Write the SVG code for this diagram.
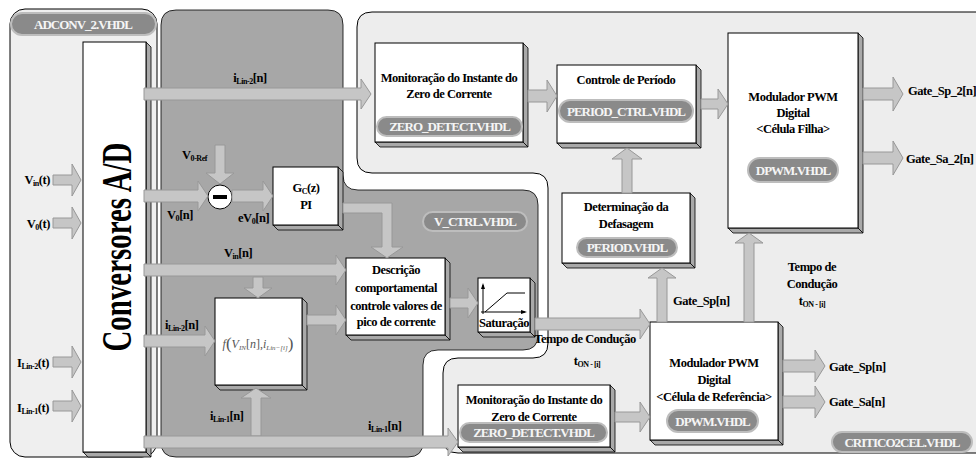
<svg xmlns="http://www.w3.org/2000/svg" width="976" height="462" viewBox="0 0 976 462">
<style>
.blk{fill:#fff;stroke:#000;stroke-width:1}
.shd{fill:#a9a9a9;stroke:#000;stroke-width:0.8}
.arr{fill:#c6c6c6;stroke:#989898;stroke-width:1}
.t{font-family:"Liberation Serif","Times New Roman",serif;font-weight:bold;font-size:12.5px;letter-spacing:-0.45px;fill:#000}
.c{text-anchor:middle}
.e{text-anchor:end}
.pill{fill:#8a8a8a;stroke:#bdbdbd;stroke-width:2}
.pt{font-family:"Liberation Serif","Times New Roman",serif;font-weight:bold;font-size:13px;letter-spacing:-1px;fill:#f5f5f5;text-anchor:middle}
.sub{font-size:8px}
</style>
<rect width="976" height="462" fill="#fff"/>
<!-- panels -->
<g id="panel-adconv">
<rect x="10" y="9" width="147" height="448" rx="15" fill="#efefef" stroke="#000" stroke-width="1"/>
<rect class="pill" x="11" y="13" width="145" height="22" rx="11"/>
<text class="pt" x="83" y="29">ADCONV_2.VHDL</text>
</g>
<g id="panel-vctrl">
<path d="M161,25 Q161,10 176,10 L328,10 Q343,10 343,25 L343,175 Q343,190 358,190 L523,190 Q538,190 538,205 L538,335 Q538,350 523,350 L438,350 Q423,350 423,365 L423,442 Q423,457 408,457 L176,457 Q161,457 161,442 Z" fill="#a7a7a7" stroke="#000" stroke-width="0.8"/>
<rect class="pill" x="423" y="212" width="104" height="19" rx="9.5"/>
<text class="pt" x="475" y="226">V_CTRL.VHDL</text>
</g>
<g id="panel-critico">
<path d="M357,27 Q357,12 372,12 L980,12 L980,453 L458,453 Q443,453 443,438 L443,373 Q443,358 458,358 L533,358 Q548,358 548,343 L548,188 Q548,173 533,173 L372,173 Q357,173 357,158 Z" fill="#ededed" stroke="#000" stroke-width="1"/>
<rect class="pill" x="832" y="432" width="140" height="20" rx="10"/>
<text class="pt" x="902" y="447">CRITICO2CEL.VHDL</text>
</g>

<!-- nodes -->
<g id="node-ad">
<polygon class="shd" points="146,42 151,47 151,457 146,452"/>
<polygon class="shd" points="83,452 146,452 151,457 88,457"/>
<rect class="blk" x="83" y="42" width="63" height="410"/>
<text class="t" transform="translate(131,247) rotate(-90)" text-anchor="middle" style="font-size:42px;letter-spacing:0" textLength="209" lengthAdjust="spacingAndGlyphs">Conversores A/D</text>
</g>
<g id="node-sum">
<circle cx="220" cy="197" r="12" fill="#fff" stroke="#000" stroke-width="1"/>
<rect x="213" y="195" width="14" height="4" fill="#000"/>
</g>
<g id="node-gc">
<polygon class="shd" points="338,167 343,172 343,230 338,225"/>
<polygon class="shd" points="273,225 338,225 343,230 278,230"/>
<rect class="blk" x="273" y="167" width="65" height="58"/>
<text class="t c" x="306" y="192">G<tspan class="sub" dy="2">C</tspan><tspan dy="-2">(z)</tspan></text>
<text class="t c" x="306" y="209">PI</text>
</g>
<g id="node-desc">
<polygon class="shd" points="445,258 450,263 450,340 445,335"/>
<polygon class="shd" points="346,335 445,335 450,340 351,340"/>
<rect class="blk" x="346" y="258" width="99" height="77"/>
<text class="t c" x="396" y="274">Descrição</text>
<text class="t c" x="396" y="292">comportamental</text>
<text class="t c" x="396" y="310">controle valores de</text>
<text class="t c" x="396" y="326">pico de corrente</text>
</g>
<g id="node-f">
<polygon class="shd" points="302,298 307,303 307,390 302,385"/>
<polygon class="shd" points="215,385 302,385 307,390 220,390"/>
<rect class="blk" x="215" y="298" width="87" height="87"/>
<text x="258" y="348" text-anchor="middle" font-family="Liberation Serif,serif" font-style="italic" font-size="12" fill="#555">f<tspan font-size="17" font-style="normal" dy="1">(</tspan><tspan dy="-1">V</tspan><tspan font-size="7" dy="2">IN</tspan><tspan dy="-2" font-style="normal">[</tspan>n<tspan font-style="normal">],</tspan>i<tspan font-size="7" dy="2">Lin−[i]</tspan><tspan font-size="17" font-style="normal" dy="-1">)</tspan></text>
</g>
<g id="node-sat">
<polygon class="shd" points="530,278 535,283 535,337 530,332"/>
<polygon class="shd" points="478,332 530,332 535,337 483,337"/>
<rect class="blk" x="478" y="278" width="52" height="54"/>
<path d="M483,314 L483,285 M481,312 L525,312 M485,312 L507,293 L525,293" fill="none" stroke="#000" stroke-width="1"/>
<path d="M483,283 L481,289 L485,289 Z M527,312 L521,310 L521,314 Z" fill="#000"/>
<text class="t c" x="504" y="327">Saturação</text>
</g>
<g id="node-zd1">
<polygon class="shd" points="523,43 528,48 528,147 523,142"/>
<polygon class="shd" points="375,142 523,142 528,147 380,147"/>
<rect class="blk" x="375" y="43" width="148" height="99"/>
<text class="t c" x="449" y="82">Monitoração do Instante do</text>
<text class="t c" x="449" y="98">Zero de Corrente</text>
<rect class="pill" x="377" y="117" width="145" height="19" rx="9.5"/>
<text class="pt" x="449.5" y="131">ZERO_DETECT.VHDL</text>
</g>
<g id="node-ctrl">
<polygon class="shd" points="696,65 701,70 701,148 696,143"/>
<polygon class="shd" points="557,143 696,143 701,148 562,148"/>
<rect class="blk" x="557" y="65" width="139" height="78"/>
<text class="t c" x="626" y="84">Controle de Período</text>
<rect class="pill" x="559" y="100" width="134" height="22" rx="11"/>
<text class="pt" x="626" y="116">PERIOD_CTRL.VHDL</text>
</g>
<g id="node-period">
<polygon class="shd" points="690,193 695,198 695,268 690,263"/>
<polygon class="shd" points="562,263 690,263 695,268 567,268"/>
<rect class="blk" x="562" y="193" width="128" height="70"/>
<text class="t c" x="626" y="211">Determinação da</text>
<text class="t c" x="626" y="228">Defasagem</text>
<rect class="pill" x="577" y="238" width="100" height="19" rx="9.5"/>
<text class="pt" x="627" y="252">PERIOD.VHDL</text>
</g>
<g id="node-dpwm2">
<polygon class="shd" points="858,33 863,38 863,233 858,228"/>
<polygon class="shd" points="728,228 858,228 863,233 733,233"/>
<rect class="blk" x="728" y="33" width="130" height="195"/>
<text class="t c" x="793" y="101">Modulador PWM</text>
<text class="t c" x="793" y="117">Digital</text>
<text class="t c" x="793" y="133">&lt;Célula Filha&gt;</text>
<rect class="pill" x="748" y="158" width="90" height="24" rx="12"/>
<text class="pt" x="793" y="175">DPWM.VHDL</text>
</g>
<g id="node-dpwm1">
<polygon class="shd" points="778,322 783,327 783,445 778,440"/>
<polygon class="shd" points="650,440 778,440 783,445 655,445"/>
<rect class="blk" x="650" y="322" width="128" height="118"/>
<text class="t c" x="714" y="367">Modulador PWM</text>
<text class="t c" x="714" y="384">Digital</text>
<text class="t c" x="714" y="401">&lt;Célula de Referência&gt;</text>
<rect class="pill" x="667" y="410" width="91" height="22" rx="11"/>
<text class="pt" x="712.5" y="426">DPWM.VHDL</text>
</g>
<g id="node-zd2">
<polygon class="shd" points="610,385 615,390 615,452 610,447"/>
<polygon class="shd" points="458,447 610,447 615,452 463,452"/>
<rect class="blk" x="458" y="385" width="152" height="62"/>
<text class="t c" x="534" y="404">Monitoração do Instante do</text>
<text class="t c" x="534" y="421">Zero de Corrente</text>
<rect class="pill" x="460" y="423" width="147" height="19" rx="9.5"/>
<text class="pt" x="533.5" y="437">ZERO_DETECT.VHDL</text>
</g>

<!-- connectors -->
<g id="connectors">
<polygon class="arr" points="53,175 72,175 72,164 81,180 72,196 72,185 53,185"/>
<polygon class="arr" points="53,218 72,218 72,207 81,223 72,239 72,228 53,228"/>
<polygon class="arr" points="53,357 72,357 72,346 81,362 72,378 72,367 53,367"/>
<polygon class="arr" points="53,401 72,401 72,390 81,406 72,422 72,411 53,411"/>
<polygon class="arr" points="144,88 361,88 361,79 371,94 361,109 361,100 144,100"/>
<polygon class="arr" points="144,190 198,190 198,181 208,196 198,211 198,202 144,202"/>
<polygon class="arr" points="215,145 215,173 206,173 220,184 234,173 225,173 225,145"/>
<polygon class="arr" points="232,190 263,190 263,181 273,196 263,211 263,202 232,202"/>
<polygon class="arr" points="343,203 392,203 392,247 403,247 387,258 371,247 382,247 382,213 343,213"/>
<polygon class="arr" points="144,264 336,264 336,255 346,270 336,285 336,276 144,276"/>
<polygon class="arr" points="253,277 253,288 244,288 258,298 272,288 263,288 263,277"/>
<polygon class="arr" points="144,335 205,335 205,326 215,341 205,356 205,347 144,347"/>
<polygon class="arr" points="307,315 336,315 336,305 346,320 336,335 336,325 307,325"/>
<polygon class="arr" points="251,436 251,398 241,398 256,388 271,398 261,398 261,436"/>
<polygon class="arr" points="144,436 448,436 448,428 458,442 448,456 448,448 144,448"/>
<polygon class="arr" points="450,298 468,298 468,288 478,303 468,318 468,308 450,308"/>
<polygon class="arr" points="535,318 640,318 640,309 650,324 640,339 640,330 535,330"/>
<polygon class="arr" points="615,412 640,412 640,402 650,417 640,432 640,422 615,422"/>
<polygon class="arr" points="657,322 657,278 648,278 662,268 676,278 667,278 667,322"/>
<polygon class="arr" points="622,193 622,159 612,159 627,148 642,159 632,159 632,193"/>
<polygon class="arr" points="528,90 547,90 547,80 557,96 547,112 547,102 528,102"/>
<polygon class="arr" points="701,99 718,99 718,89 728,104 718,119 718,109 701,109"/>
<polygon class="arr" points="744,322 744,243 735,243 749,233 763,243 754,243 754,322"/>
<polygon class="arr" points="863,88 893,88 893,77 903,94 893,111 893,100 863,100"/>
<polygon class="arr" points="863,152 893,152 893,141 903,158 893,175 893,164 863,164"/>
<polygon class="arr" points="783,360 815,360 815,350 825,366 815,382 815,372 783,372"/>
<polygon class="arr" points="783,396 815,396 815,386 825,402 815,418 815,408 783,408"/>
</g>

<!-- labels -->
<g id="labels">
<text class="t e" x="50" y="184">V<tspan class="sub" dy="2">in</tspan><tspan dy="-2">(t)</tspan></text>
<text class="t e" x="50" y="228">V<tspan class="sub" dy="2">0</tspan><tspan dy="-2">(t)</tspan></text>
<text class="t e" x="49" y="367">I<tspan class="sub" dy="2">Lin-2</tspan><tspan dy="-2">(t)</tspan></text>
<text class="t e" x="49" y="412">I<tspan class="sub" dy="2">Lin-1</tspan><tspan dy="-2">(t)</tspan></text>
<text class="t c" x="250" y="82">i<tspan class="sub" dy="2">Lin-2</tspan><tspan dy="-2">[n]</tspan></text>
<text class="t" x="182" y="159">V<tspan class="sub" dy="2">0-Ref</tspan></text>
<text class="t" x="167" y="219">V<tspan class="sub" dy="2">0</tspan><tspan dy="-2">[n]</tspan></text>
<text class="t" x="238" y="222">eV<tspan class="sub" dy="2">0</tspan><tspan dy="-2">[n]</tspan></text>
<text class="t" x="224" y="257">V<tspan class="sub" dy="2">in</tspan><tspan dy="-2">[n]</tspan></text>
<text class="t" x="165" y="329">i<tspan class="sub" dy="2">Lin-2</tspan><tspan dy="-2">[n]</tspan></text>
<text class="t" x="210" y="420">i<tspan class="sub" dy="2">Lin-1</tspan><tspan dy="-2">[n]</tspan></text>
<text class="t" x="368" y="430">i<tspan class="sub" dy="2">Lin-1</tspan><tspan dy="-2">[n]</tspan></text>
<text class="t c" x="585" y="343">Tempo de Condução</text>
<text class="t c" x="587" y="365">t<tspan class="sub" dy="2">ON - [i]</tspan></text>
<text class="t" x="673" y="305">Gate_Sp[n]</text>
<text class="t c" x="812" y="271">Tempo de</text>
<text class="t c" x="812" y="288">Condução</text>
<text class="t c" x="812" y="305">t<tspan class="sub" dy="2">ON - [i]</tspan></text>
<text class="t" x="908" y="95">Gate_Sp_2[n]</text>
<text class="t" x="906" y="163">Gate_Sa_2[n]</text>
<text class="t" x="829" y="371">Gate_Sp[n]</text>
<text class="t" x="829" y="406">Gate_Sa[n]</text>
</g>
</svg>
